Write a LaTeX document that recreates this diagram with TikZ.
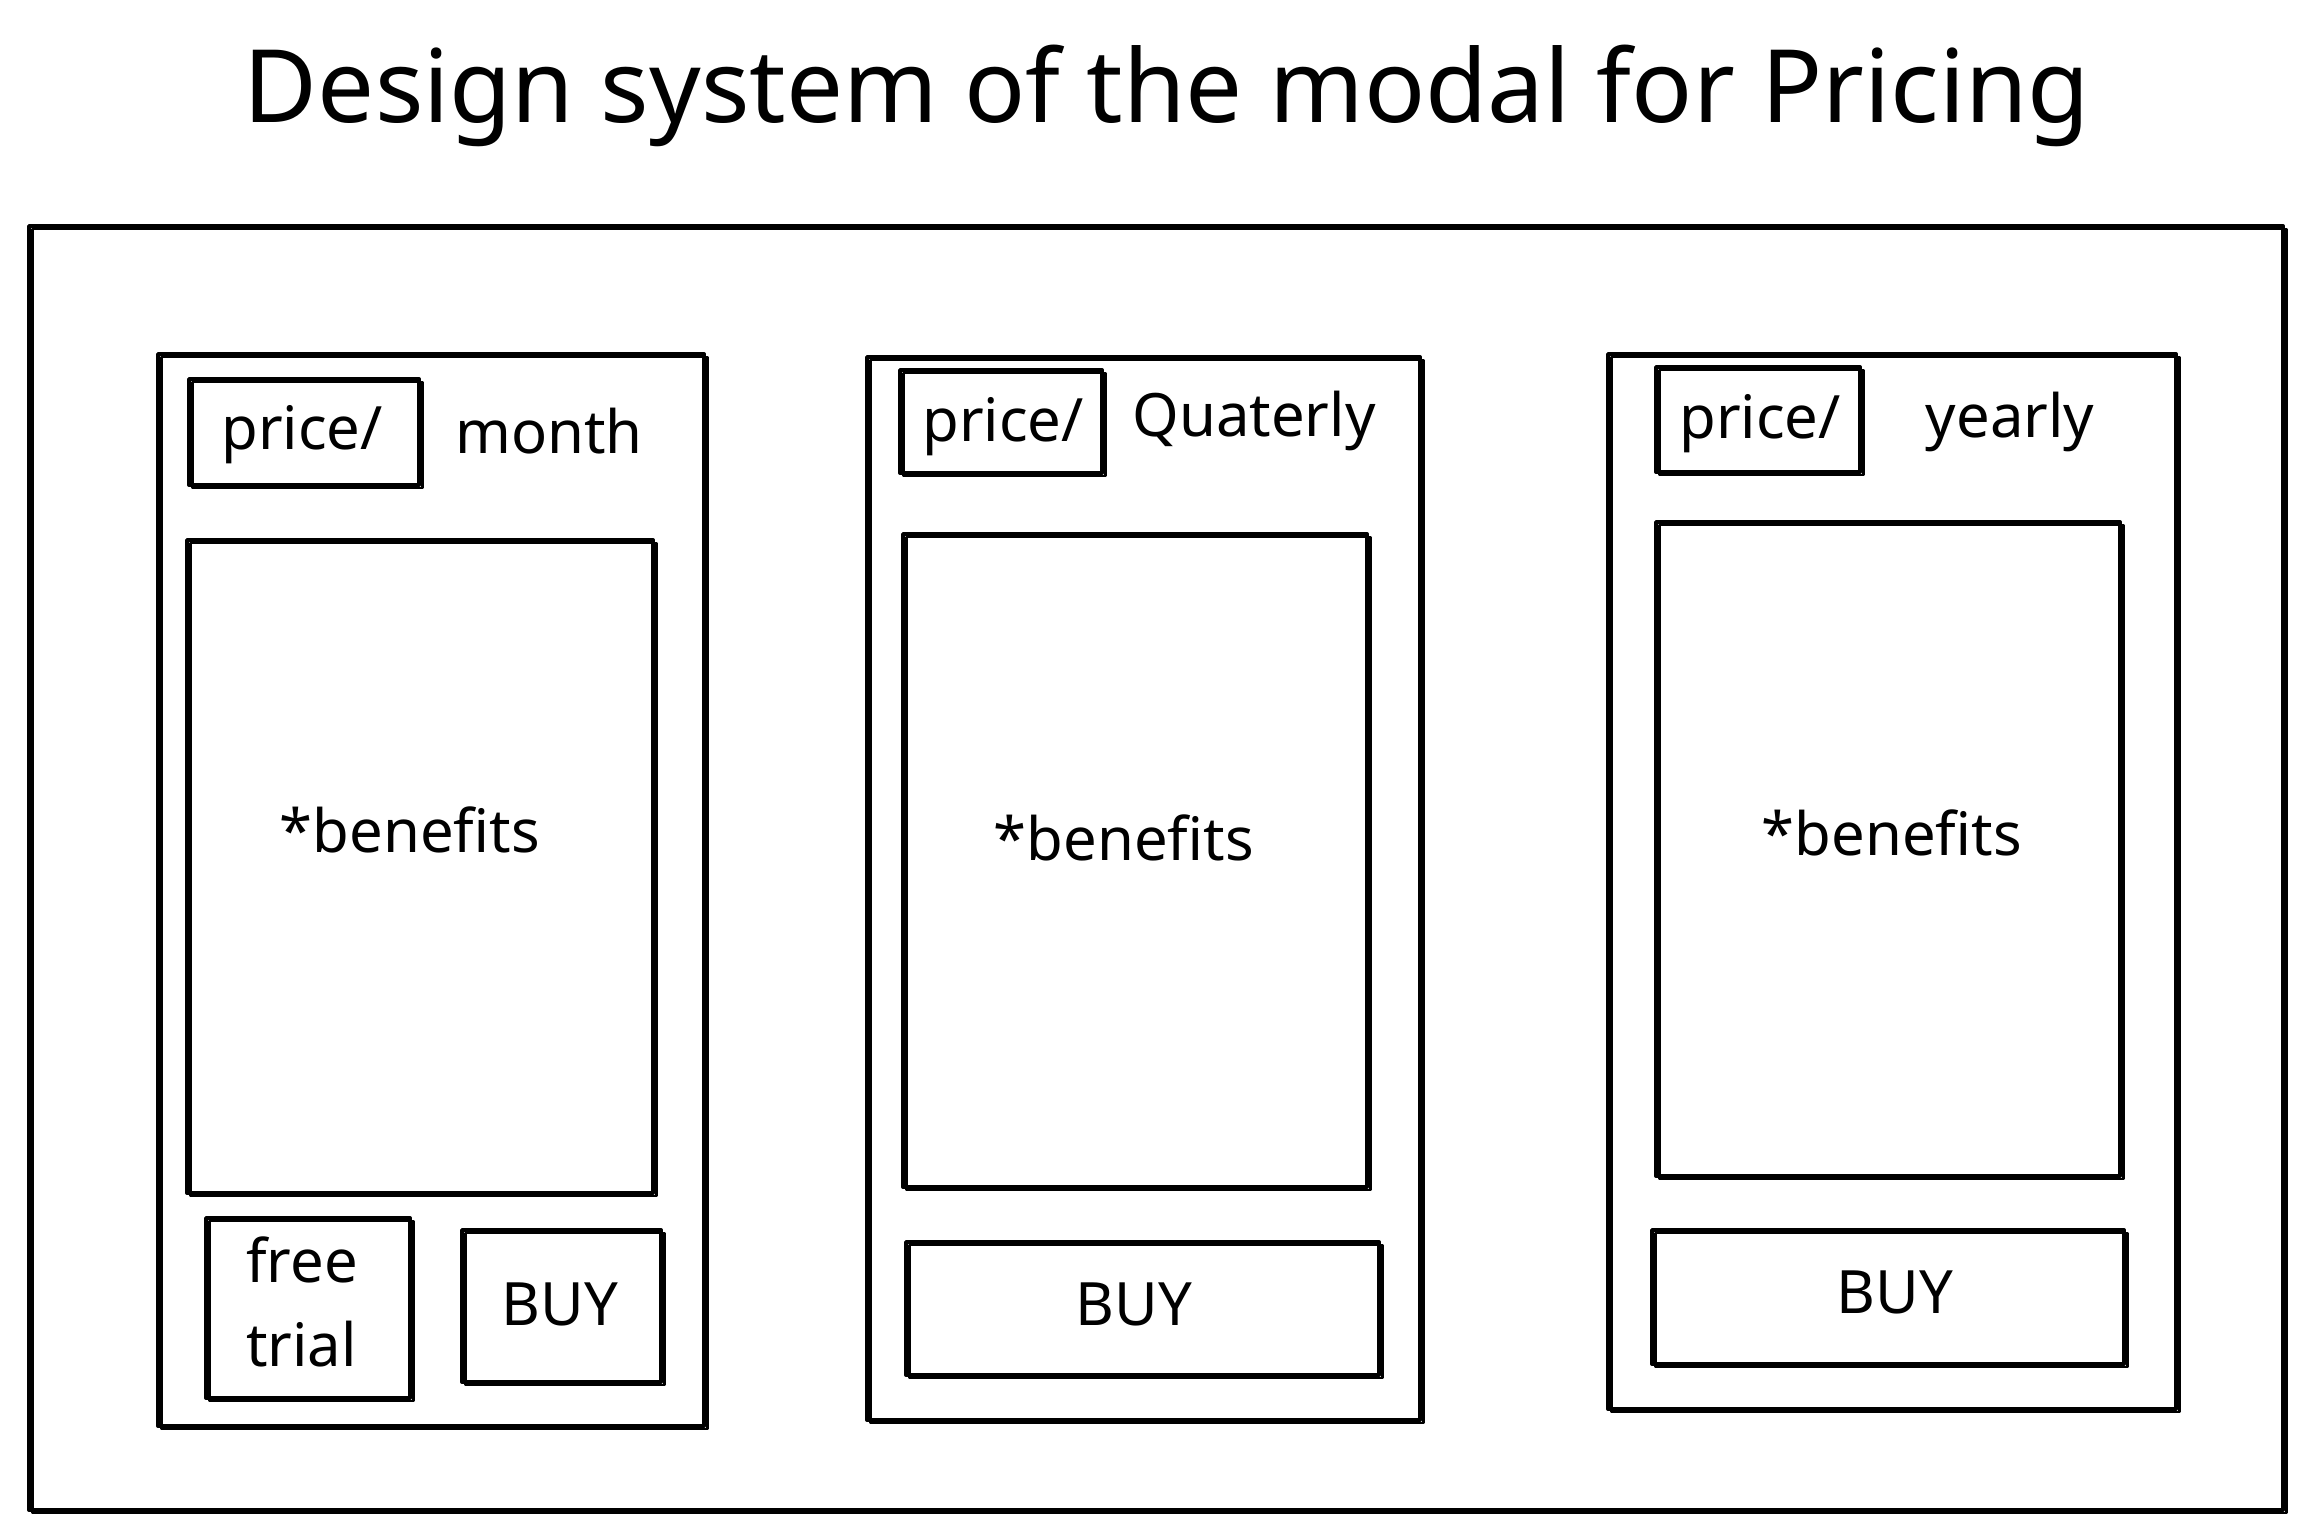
\documentclass[tikz,border=0pt]{standalone}
\usepackage{fontspec}
\setmainfont{Noto Sans}
\usetikzlibrary{fit}
\begin{document}
\begin{tikzpicture}[x=0.01cm,y=-0.01cm,
  sk/.style={draw, line width=1.1pt, inner sep=0pt, line join=round,
    postaction={draw, line width=0.6pt, transform canvas={shift={(0.035cm,-0.03cm)}}}},
  lbl/.style={font=\fontsize{17}{21}\selectfont, inner sep=0pt},
  ttl/.style={font=\fontsize{28.8}{32}\selectfont, inner sep=0pt}]
\fill[white] (0,0) rectangle (2313,1539);
\useasboundingbox (0,0) rectangle (2313,1539);

% title
\node[ttl] (title) at (1167,96) {Design system of the modal for Pricing};

% outer frame
\node[sk, fit={(29,226)(2283,1510)}] (frame) {};

% monthly plan
\node[sk, fit={(158,354)(704,1426)}] (card1) {};
\node[sk, fit={(189,379)(419,485)}] (price1) {};
\node[lbl] (price1t) at (302,435) {price/};
\node[lbl] (per1) at (549,431) {month};
\node[sk, fit={(187,540)(653,1193)}] (ben1) {};
\node[lbl] (ben1t) at (410,830) {*benefits};
\node[sk, fit={(206,1218)(410,1398)}] (trial1) {};
\node[lbl, align=left, font=\fontsize{17}{24}\selectfont] (trial1t) at (302,1302) {free\\ trial};
\node[sk, fit={(462,1230)(661,1382)}] (buy1) {};
\node[lbl] (buy1t) at (560,1304) {BUY};

% quarterly plan
\node[sk, fit={(867,357)(1420,1420)}] (card2) {};
\node[sk, fit={(900,370)(1102,473)}] (price2) {};
\node[lbl] (price2t) at (1003,427) {price/};
\node[lbl] (per2) at (1254,421) {Quaterly};
\node[sk, fit={(903,534)(1367,1187)}] (ben2) {};
\node[lbl] (ben2t) at (1124,838) {*benefits};
\node[sk, fit={(906,1242)(1379,1375)}] (buy2) {};
\node[lbl] (buy2t) at (1134,1304) {BUY};

% yearly plan
\node[sk, fit={(1608,354)(2176,1409)}] (card3) {};
\node[sk, fit={(1656,367)(1860,472)}] (price3) {};
\node[lbl] (price3t) at (1760,424) {price/};
\node[lbl] (per3) at (2010,422) {yearly};
\node[sk, fit={(1656,522)(2120,1176)}] (ben3) {};
\node[lbl] (ben3t) at (1892,833) {*benefits};
\node[sk, fit={(1652,1230)(2124,1364)}] (buy3) {};
\node[lbl] (buy3t) at (1895,1292) {BUY};
\end{tikzpicture}
\end{document}
